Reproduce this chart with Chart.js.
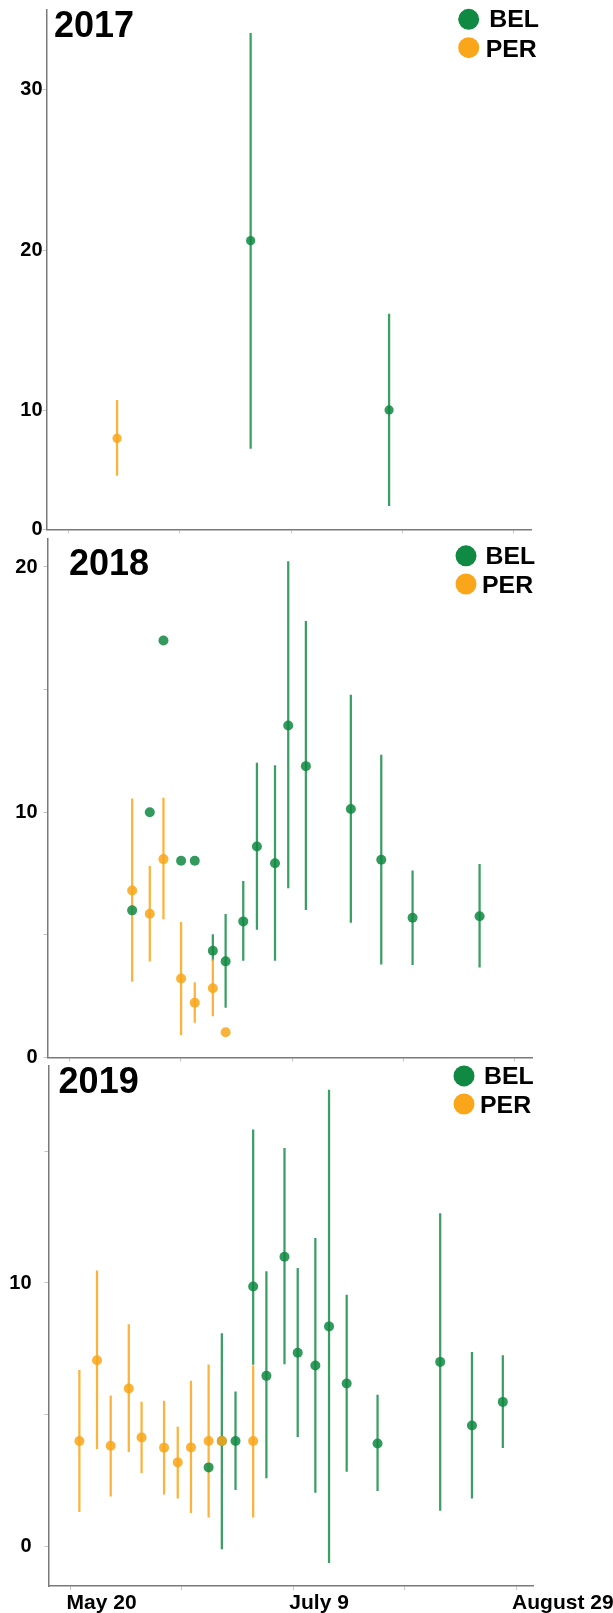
<!DOCTYPE html>
<html>
<head>
<meta charset="utf-8">
<script src="https://cdn.jsdelivr.net/npm/chart.js@4.4.1/dist/chart.umd.min.js"></script>
<style>
  html, body { margin: 0; padding: 0; background: #fff; }
  body { width: 613px; height: 1613px; position: relative; overflow: hidden; }
  .panel { position: absolute; left: 0; width: 613px; }
</style>
</head>
<body>
<div class="panel" style="top:0px;height:540px"><canvas id="chart2017"></canvas></div>
<div class="panel" style="top:530px;height:540px"><canvas id="chart2018"></canvas></div>
<div class="panel" style="top:1060px;height:553px"><canvas id="chart2019"></canvas></div>
<script>
// ***** data (x = day of year, May 20 = 140) ***** //
const xTickDays = [140, 165.25, 190.5, 215.75, 241];
const xTickLabels = ['May 20', '', 'July 9', '', 'August 29'];

// 2017
const bel2017Days = [181.3, 212.7];
const bel2017Vals = [20.6, 10.06];
const bel2017Lo = [7.66, 4.1];
const bel2017Hi = [33.5, 16.02];
const per2017Days = [151.0];
const per2017Vals = [8.29];
const per2017Lo = [5.99];
const per2017Hi = [10.66];
const yTicks2017 = [2.63, 10, 20, 30];
const yLabels2017 = ['0', '10', '20', '30'];

// 2018
const bel2018Days = [154.2, 158.2, 161.3, 165.3, 168.4, 172.5, 175.4, 179.4, 182.5, 186.6, 189.6, 193.6, 203.8, 210.7, 217.8, 233.0];
const bel2018Vals = [6.0, 10.0, 17.0, 8.02, 8.02, 4.35, 3.92, 5.55, 8.6, 7.92, 13.54, 11.88, 10.13, 8.06, 5.70, 5.76];
const bel2018Lo = [null, null, null, null, null, 3.96, 2.04, 3.96, 5.22, 3.96, 6.91, 6.03, 5.51, 3.81, 3.79, 3.68];
const bel2018Hi = [null, null, null, null, null, 5.01, 5.84, 7.18, 12.0, 11.9, 20.22, 17.78, 14.78, 12.33, 7.61, 7.88];
const per2018Days = [154.2, 158.2, 161.3, 165.3, 168.4, 172.5, 175.4];
const per2018Vals = [6.81, 5.86, 8.09, 3.22, 2.23, 2.82, 1.03];
const per2018Lo = [3.10, 3.93, 5.65, 0.93, 1.43, 1.70, null];
const per2018Hi = [10.55, 7.79, 10.58, 5.51, 3.05, 3.99, null];
const yTicks2018 = [0, 5, 10, 15, 20];
const yLabels2018 = ['0', '', '10', '', '20'];

// 2019
const bel2019Days = [171.3, 174.3, 177.4, 181.4, 184.4, 188.5, 191.5, 195.5, 198.6, 202.6, 209.6, 223.8, 231.0, 238.0];
const bel2019Vals = [2.99, 3.99, 3.99, 9.87, 6.47, 11.0, 7.35, 6.86, 8.35, 6.18, 3.90, 7.0, 4.58, 5.48];
const bel2019Lo = [null, -0.11, 2.14, 6.9, 2.59, 6.92, 4.16, 2.04, -0.63, 2.84, 2.10, 1.35, 1.82, 3.74];
const bel2019Hi = [null, 8.08, 5.86, 15.82, 10.43, 15.12, 10.56, 11.70, 17.33, 9.54, 5.74, 12.64, 7.36, 7.24];
const per2019Days = [142.0, 146.0, 149.1, 153.2, 156.1, 161.2, 164.3, 167.3, 171.3, 174.3, 181.4];
const per2019Vals = [3.99, 7.06, 3.81, 5.99, 4.13, 3.74, 3.18, 3.75, 3.99, 3.99, 3.99];
const per2019Lo = [1.31, 3.70, 1.90, 3.59, 2.79, 1.97, 1.82, 1.27, 1.10, null, 1.10];
const per2019Hi = [6.68, 10.46, 5.71, 8.42, 5.47, 5.51, 4.52, 6.27, 6.89, null, 6.86];
const yTicks2019 = [0, 5, 10, 15];
const yLabels2019 = ['0', '', '10', ''];

// ***** helpers ***** //
const GREEN = 'rgb(16,137,66)';
const ORANGE = 'rgb(249,166,26)';
const FONT = '"Liberation Sans", Arial, sans-serif';
Chart.defaults.font.family = FONT;

function toPoints(days, vals) {
    return days.map((d, i) => ({x: d, y: vals[i]}));
}
function toBars(days, lo, hi) {
    const out = [];
    days.forEach((d, i) => {
        if (lo[i] !== null && hi[i] !== null) out.push({x: d, y: [lo[i], hi[i]]});
    });
    return out;
}

// year label + legend drawn inside the panel
const panelText = {
    id: 'panelText',
    afterDraw(chart, args, opts) {
        const ctx = chart.ctx;
        ctx.save();
        ctx.fillStyle = '#000';
        ctx.textBaseline = 'alphabetic';
        ctx.font = 'bold 36px ' + FONT;
        ctx.fillText(opts.year, opts.yearX, opts.yearY);
        const items = chart.data.datasets.filter(ds => ds.type === 'scatter');
        items.forEach((ds, i) => {
            const pos = opts.legend[i];
            ctx.beginPath();
            ctx.arc(pos.cx, pos.cy, 10.5, 0, Math.PI * 2);
            ctx.fillStyle = ds.legendColor;
            ctx.fill();
            ctx.save();
            ctx.translate(pos.tx, pos.ty);
            ctx.scale(1.08, 1);
            ctx.fillStyle = '#000';
            ctx.font = 'bold 23px ' + FONT;
            ctx.fillText(ds.label, 0, 0);
            ctx.restore();
        });
        ctx.restore();
    }
};

function makePanel(id, cfg) {
    const el = document.getElementById(id);
    if (!el) return;
    return new Chart(el, {
        type: 'scatter',
        data: {
            datasets: [
                {type: 'scatter', label: 'BEL', data: toPoints(cfg.belDays, cfg.belVals), legendColor: GREEN,
                 pointRadius: cfg.r, pointHoverRadius: cfg.r, pointBackgroundColor: 'rgba(16,137,66,0.86)', pointBorderWidth: 0, order: 1},
                {type: 'scatter', label: 'PER', data: toPoints(cfg.perDays, cfg.perVals), legendColor: ORANGE,
                 pointRadius: cfg.r, pointHoverRadius: cfg.r, pointBackgroundColor: 'rgba(249,166,26,0.86)', pointBorderWidth: 0, order: 0},
                {type: 'bar', label: 'BEL range', data: toBars(cfg.belDays, cfg.belLo, cfg.belHi),
                 backgroundColor: 'rgba(16,137,66,0.82)', barThickness: 1.6, grouped: false, borderWidth: 0, order: 3},
                {type: 'bar', label: 'PER range', data: toBars(cfg.perDays, cfg.perLo, cfg.perHi),
                 backgroundColor: 'rgba(249,166,26,0.85)', barThickness: 1.6, grouped: false, borderWidth: 0, order: 2}
            ]
        },
        options: {
            responsive: true,
            maintainAspectRatio: false,
            animation: false,
            devicePixelRatio: 1,
            layout: {padding: {top: cfg.padTop, right: cfg.padRight, bottom: 0, left: 0}},
            plugins: {
                legend: {display: false},
                tooltip: {enabled: false},
                panelText: cfg.text
            },
            scales: {
                x: {
                    type: 'linear',
                    min: 135,
                    max: 245,
                    offset: false,
                    afterBuildTicks: axis => { axis.ticks = xTickDays.map(v => ({value: v})); },
                    afterFit: scale => {
                        scale.height = cfg.xHeight;
                        scale.paddingLeft = 0;
                        scale.paddingRight = 0;
                    },
                    border: {display: true, color: '#7a7a7a', width: 1.5},
                    grid: {display: true, offset: false, drawOnChartArea: false, drawTicks: true, tickLength: 4, color: '#c4c4c4'},
                    ticks: {
                        autoSkip: false,
                        maxRotation: 0,
                        align: 'start',
                        labelOffset: -4,
                        padding: 1,
                        color: '#000',
                        font: {size: 21, weight: 'bold'},
                        callback: (v, i) => cfg.xLabels ? xTickLabels[i] : ''
                    }
                },
                y: {
                    min: cfg.yMin,
                    max: cfg.yMax,
                    afterBuildTicks: axis => { axis.ticks = cfg.yTicks.map(v => ({value: v})); },
                    afterFit: scale => {
                        scale.width = cfg.yWidth;
                        scale.paddingTop = 0;
                        scale.paddingBottom = 0;
                    },
                    border: {display: true, color: '#7a7a7a', width: 1.5},
                    grid: {display: true, drawOnChartArea: false, drawTicks: true, tickLength: 4, color: '#c4c4c4'},
                    ticks: {
                        padding: cfg.yPad,
                        color: '#000',
                        font: {size: 20, weight: 'bold'},
                        callback: (v, i) => cfg.yLabels[i]
                    }
                }
            }
        },
        plugins: [panelText]
    });
}

// *****2017 Panel***** //
makePanel('chart2017', {
    belDays: bel2017Days, belVals: bel2017Vals, belLo: bel2017Lo, belHi: bel2017Hi,
    perDays: per2017Days, perVals: per2017Vals, perLo: per2017Lo, perHi: per2017Hi,
    yMin: 2.63, yMax: 35, yTicks: yTicks2017, yLabels: yLabels2017,
    r: 4.6, padTop: 9.3, padRight: 81.5, xHeight: 10.7, yWidth: 46.5, yPad: 0, xLabels: false,
    text: {year: '2017', yearX: 54, yearY: 37,
           legend: [{cx: 468.7, cy: 19.3, tx: 489.3, ty: 27.3}, {cx: 468.7, cy: 47.7, tx: 485.7, ty: 56.7}]}
});

// *****2018 Panel***** //
makePanel('chart2018', {
    belDays: bel2018Days, belVals: bel2018Vals, belLo: bel2018Lo, belHi: bel2018Hi,
    perDays: per2018Days, perVals: per2018Vals, perLo: per2018Lo, perHi: per2018Hi,
    yMin: 0, yMax: 21.17, yTicks: yTicks2018, yLabels: yLabels2018,
    r: 5, padTop: 8.3, padRight: 80.5, xHeight: 12.5, yWidth: 47.5, yPad: 6, xLabels: false,
    text: {year: '2018', yearX: 69, yearY: 45,
           legend: [{cx: 466, cy: 25.8, tx: 485.5, ty: 33.5}, {cx: 466, cy: 54, tx: 482, ty: 63}]}
});

// *****2019 Panel***** //
makePanel('chart2019', {
    belDays: bel2019Days, belVals: bel2019Vals, belLo: bel2019Lo, belHi: bel2019Hi,
    perDays: per2019Days, perVals: per2019Vals, perLo: per2019Lo, perHi: per2019Hi,
    yMin: -1.52, yMax: 18.25, yTicks: yTicks2019, yLabels: yLabels2019,
    r: 5, padTop: 6, padRight: 79.3, xHeight: 27, yWidth: 48.5, yPad: 13, xLabels: true,
    text: {year: '2019', yearX: 58.6, yearY: 32.5,
           legend: [{cx: 464, cy: 15.9, tx: 484, ty: 24}, {cx: 464, cy: 44, tx: 480, ty: 53}]}
});
</script>
</body>
</html>
